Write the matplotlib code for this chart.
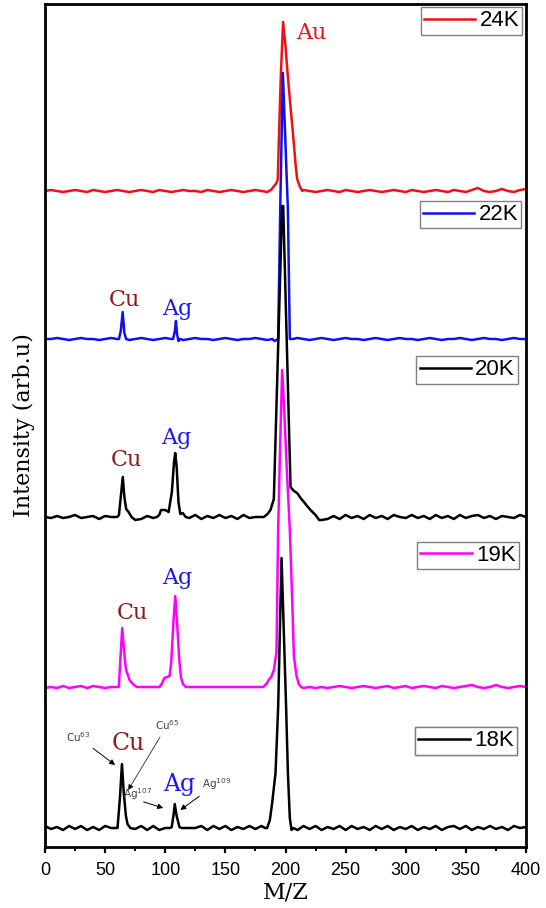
import matplotlib.pyplot as plt
import numpy as np

# spectra; heights are in arbitrary units above each trace's baseline
labels = ['24K', '22K', '20K', '19K', '18K']
colors = ['#ee1111', '#1010ee', 'black', '#ff00ff', 'black']
offsets = [656, 508, 330, 160, 19]

# baseline ripple, sampled every 5 M/Z from 0 to 400
r24 = [0, 1, 0, -1, 0, 1, 0, -1, 1, 0,
       -1, 0, 1, 0, -1, 0, 1, 0, -1, 1,
       0, -1, 0, 1, 0, 0, -1, 1, 0, -1,
       0, 1, 0, -1, 0, 1, 0, -1, 0, 0,
       0, 0, 0, 1, 0, -1, 0, 1, 0, -1,
       1, 0, -1, 0, 1, 0, -1, 0, 1, 0,
       -1, 1, 0, -1, 0, 1, 0, -1, 1, 0,
       -1, 1, 3, 0, -1, 0, 2, 0, -1, 1,
       2]
r22 = [0, 0, 1, 0, -1, 0, 1, 0, 0, -1,
       0, 1, 0, 0, -1, 0, 1, 0, -1, 0,
       1, 0, 0, -1, 0, 1, 0, 0, -1, 0,
       1, 0, -1, 0, 0, 1, 0, -1, 0, 0,
       0, 0, 1, 0, -1, 0, 1, 0, -1, 0,
       1, 0, 0, -1, 0, 1, 0, -1, 0, 1,
       0, 0, -1, 0, 1, 0, -1, 0, 0, 1,
       0, -1, 0, 1, 0, 0, -1, 0, 1, 0,
       0]
r20 = [0, -1, 1, -1, 0, 2, -1, 0, 1, -2,
       1, 0, 0, 0, 0, -3, -2, 1, -1, 2,
       0, 0, 0, 0, -1, 2, -2, 1, -1, 2,
       -1, 1, -2, 2, -1, 0, 0, 0, 0, 0,
       0, 0, 0, 0, 0, 0, -3, -2, 1, -2,
       2, -1, 1, -2, 2, -1, 1, -2, 2, 0,
       -1, 2, -1, 1, -2, 2, -1, 1, -2, 2,
       -1, 1, 2, -1, 1, -2, 1, 0, -1, 2,
       0]
r19 = [-1, 0, -1, 1, -1, 0, 1, -1, 1, 0,
       -1, 0, 0, 0, 0, 0, 0, 0, 0, 0,
       0, 0, 0, 0, 0, 0, 0, 0, 0, 0,
       0, 0, 0, 0, 0, 0, 0, 0, 0, 0,
       0, 0, 0, -1, 0, -1, 0, -1, 0, 1,
       0, -1, 0, 1, 0, -1, 0, 1, -1, 0,
       1, -1, 0, 1, 0, -1, 1, 0, -1, 0,
       1, 2, 0, -1, 0, 2, 0, -1, 0, 1,
       0]
r18 = [2, -1, 1, -2, 2, -1, 2, -2, 1, -2,
       2, 0, 0, 0, 0, -1, 2, -2, 2, -2,
       0, 0, 0, 0, 0, 0, 2, -2, 2, -1,
       2, -2, 1, -1, 2, -1, 2, 0, 0, 0,
       0, 0, -2, 2, -1, 2, -2, 1, -1, 2,
       -2, 2, -1, 1, -2, 2, -1, 2, -2, 1,
       -1, 2, -2, 1, -1, 2, -2, 1, 2, -1,
       2, -2, 1, -1, 2, -1, 1, -2, 2, 0,
       1]

# peaks: (M/Z list, height list)
au24 = ([186, 188, 190.5, 192.5, 193.6, 194.4, 196.1, 198, 200, 201.9, 204.5, 206.9, 208.5, 209.7, 212, 214],
        [0, 1, 5, 8, 12, 48, 115, 169, 145, 115, 80, 48, 25, 12, 4, 0])

cu22 = ([61.5, 63, 64.6, 66, 67.5], [0, 8, 27, 6, 0])
ag22 = ([106.5, 108, 108.9, 109.8, 111, 112.5], [0, 8, 18, 5, -2, 0])
au22 = ([189, 191, 193.9, 195.6, 197.8, 202, 203.6, 206], [0, -2, 0, 129, 266, 129, 0, 0])

cu20 = ([60, 61.5, 63, 64.7, 66, 67.5, 69.5, 72], [0, 2, 20, 40, 20, 8, 5, 0])
ag20 = ([93, 95, 96.5, 100, 102.8, 105.5, 107.3, 108.3, 109.5, 111, 112.5, 114.5, 117],
        [0, 2, 7, 7, 5, 25, 55, 64, 50, 15, 3, 4, 0])
au20 = ([182, 185, 187.5, 190.3, 197.2, 198.1, 204.2, 207, 209.7, 212.5, 215.3, 218, 220.8, 225, 228],
        [0, 3, 7, 18, 311, 311, 30, 26, 24, 19, 15, 11, 7, 2, -3])

cu19 = ([58, 61.4, 62.8, 64.2, 65.5, 66.7, 67.5, 70.3, 73, 76.4], [0, 0, 30, 59, 40, 24, 17, 7, 3, 0])
ag19 = ([95.3, 97.5, 99.2, 101.5, 103.6, 105, 106.8, 108.3, 109.8, 111.5, 113, 114.7, 117],
        [0, 4, 9, 10, 11, 25, 65, 91, 65, 30, 10, 3, 0])
au19 = ([181.4, 184, 186, 188.5, 190.3, 192.5, 193.9, 195.5, 197.2, 199, 201, 203.6, 205.5, 207, 209, 211, 213],
        [0, 3, 7, 11, 17, 35, 157, 240, 317, 275, 220, 157, 90, 31, 12, 3, 0])

cu18 = ([59, 60.3, 62.3, 64, 65.5, 67.3, 68.6, 71], [0, 0, 30, 64, 35, 12, 4, 0])
ag18 = ([104, 105.4, 107, 107.9, 109.5, 111.8, 113.5], [0, 1, 14, 24, 12, 1, 0])
au18 = ([183, 184.7, 187, 188.9, 191.7, 193.9, 196.7, 198.5, 200.5, 202, 203.6, 205, 206.5],
        [0, 0, 8, 25, 55, 121, 270, 200, 121, 55, 10, -2, 0])

ripples = [r24, r22, r20, r19, r18]
peaks = [[au24], [cu22, ag22, au22], [cu20, ag20, au20], [cu19, ag19, au19], [cu18, ag18, au18]]

# legend box top-right corners (axes fraction)
leg_pos = [(0.992, 0.996), (0.99, 0.766), (0.983, 0.582), (0.985, 0.362), (0.981, 0.142)]


def trace(ripple, pks):
    bx = np.linspace(0, 400, len(ripple))
    by = np.array(ripple, float)
    keep = np.ones(len(bx), bool)
    for px, py in pks:
        keep &= (bx < min(px)) | (bx > max(px))
    x = np.concatenate([bx[keep]] + [np.array(p[0], float) for p in pks])
    y = np.concatenate([by[keep]] + [np.array(p[1], float) for p in pks])
    o = np.argsort(x, kind='stable')
    return x[o], y[o]


fig = plt.figure(figsize=(5.46, 9.08), dpi=100)
ax = fig.add_axes([45 / 546, 61 / 908, 481 / 546, 843 / 908])

for lab, col, off, rip, pk, lp in zip(labels, colors, offsets, ripples, peaks, leg_pos):
    x, y = trace(rip, pk)
    line, = ax.plot(x, y + off, color=col, lw=1.8)
    leg = ax.legend([line], [lab], loc='upper right', bbox_to_anchor=lp,
                    prop={'family': 'Liberation Sans', 'size': 16},
                    handlelength=2.3, handletextpad=0.2, borderpad=0.14,
                    borderaxespad=0, fancybox=False, framealpha=1,
                    edgecolor='#808080')
    leg.get_frame().set_linewidth(1.0)
    ax.add_artist(leg)

ax.set_xlim(0, 400)
ax.set_ylim(0, 843)
ax.set_yticks([])
ax.set_xticks(np.arange(0, 401, 50))
ax.set_xticks(np.arange(25, 400, 50), minor=True)
ax.tick_params(axis='x', which='major', direction='out', length=4.5, width=1.6, pad=6,
               labelsize=13)
ax.tick_params(axis='x', which='minor', direction='out', length=3, width=1.4)
for lbl in ax.get_xticklabels():
    lbl.set_family('Liberation Sans')
for s in ax.spines.values():
    s.set_linewidth(2.0)

ax.set_xlabel('M/Z', family='DejaVu Serif', fontsize=16, labelpad=2)
ax.set_ylabel('Intensity (arb.u)', family='DejaVu Serif', fontsize=16, labelpad=7)

cu_col = '#8b1a1a'
ag_col = '#1a1aee'
ef = dict(family='DejaVu Serif', fontsize=16, ha='center', va='center')
ax.text(221.7, 814, 'Au', color='#ee1111', **ef)
ax.text(65.8, 547, 'Cu', color=cu_col, **ef)
ax.text(110, 538, 'Ag', color=ag_col, **ef)
ax.text(67.5, 387, 'Cu', color=cu_col, **ef)
ax.text(109.2, 409, 'Ag', color=ag_col, **ef)
ax.text(72.5, 234, 'Cu', color=cu_col, **ef)
ax.text(110, 269, 'Ag', color=ag_col, **ef)
ax.text(69.6, 103, 'Cu', color=cu_col, family='DejaVu Serif', fontsize=17, ha='center', va='center')
ax.text(111.7, 63, 'Ag', color=ag_col, family='DejaVu Serif', fontsize=17, ha='center', va='center')

# isotope call-outs on the 18K trace
af = dict(fontsize=7.5, color='#444444', ha='center', va='center')
ap = dict(arrowstyle='-|>', color='black', lw=0.7, mutation_scale=8, shrinkA=2, shrinkB=0)
ax.annotate(r'Cu$^{63}$', xy=(58.3, 82), xytext=(27.5, 110), arrowprops=ap, **af)
ax.annotate(r'Cu$^{65}$', xy=(69.2, 57), xytext=(101.7, 122), arrowprops=dict(ap, lw=0.5), **af)
ax.annotate(r'Ag$^{107}$', xy=(98.3, 39), xytext=(76.7, 53),
            arrowprops=dict(ap, patchA=None, shrinkA=0, relpos=(0.72, 0.0)), **af)
ax.annotate(r'Ag$^{109}$', xy=(112.5, 37), xytext=(142.5, 63), arrowprops=ap, **af)

fig.savefig('out.png', dpi=100)
